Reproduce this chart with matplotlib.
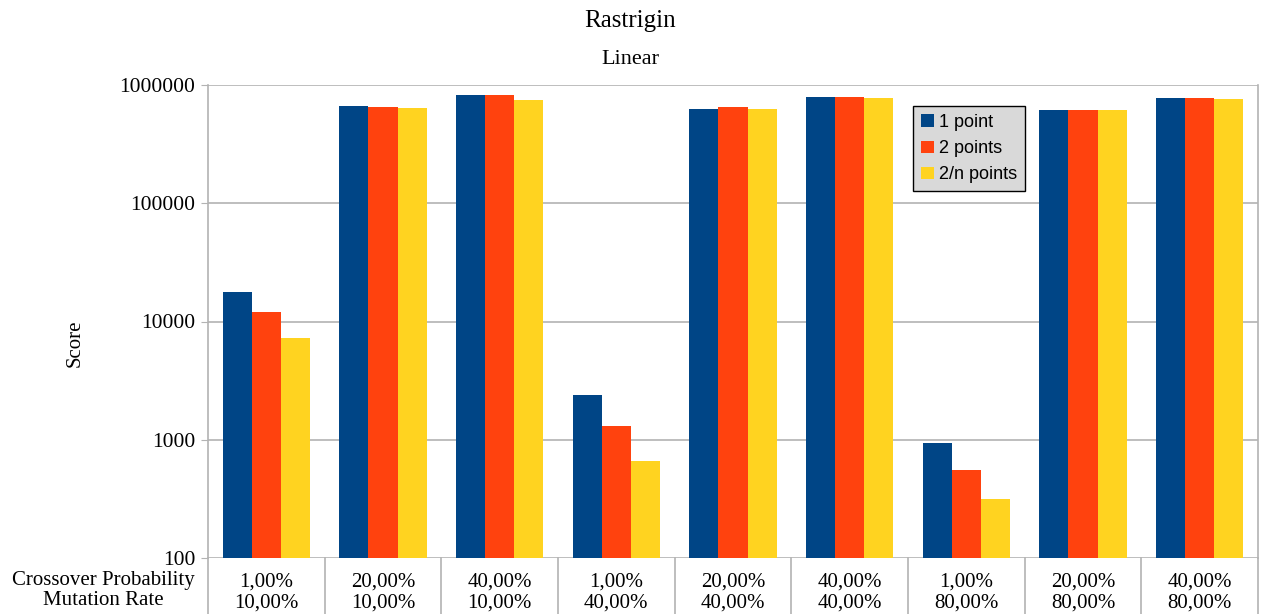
import matplotlib.pyplot as plt
import matplotlib.ticker as mticker
import numpy as np

plt.rcParams["font.family"] = ["Liberation Serif", "DejaVu Serif"]

crossover = ["1,00%", "20,00%", "40,00%", "1,00%", "20,00%", "40,00%", "1,00%", "20,00%", "40,00%"]
mutation = ["10,00%", "10,00%", "10,00%", "40,00%", "40,00%", "40,00%", "80,00%", "80,00%", "80,00%"]

one_point = [17700, 664000, 828000, 2390, 630000, 787000, 944, 615000, 772000]
two_points = [12000, 646000, 820000, 1307, 647000, 787000, 555, 615000, 772000]
two_n_points = [7250, 638000, 747000, 661, 630000, 772000, 318, 612000, 763000]

series = [("1 point", one_point, "#004586"),
          ("2 points", two_points, "#ff420e"),
          ("2/n points", two_n_points, "#ffd320")]

fig = plt.figure(figsize=(12.61, 6.14), dpi=100)
ax = fig.add_axes([208 / 1261, 56 / 614, 1050 / 1261, 473 / 614])

x = np.arange(len(crossover))
width = 0.25
for i, (name, vals, col) in enumerate(series):
    ax.bar(x + (i - 1) * width, vals, width, color=col, label=name, zorder=3)

ax.set_yscale("log")
ax.set_ylim(100, 1000000)
ax.set_xlim(-0.5, len(crossover) - 0.5)
ticks = [100, 1000, 10000, 100000, 1000000]
ax.yaxis.set_major_locator(mticker.FixedLocator(ticks))
ax.yaxis.set_minor_locator(mticker.NullLocator())
ax.set_yticklabels([str(t) for t in ticks], fontsize=15.5)
ax.tick_params(axis="y", length=5, color="#b3b3b3", pad=4)
ax.set_xticks([])
ax.grid(axis="y", color="#b3b3b3", linewidth=1.2, zorder=0)

for side in ["top", "bottom"]:
    ax.spines[side].set_visible(False)
for side in ["left", "right"]:
    ax.spines[side].set_color("#b3b3b3")
    ax.spines[side].set_linewidth(1.2)

# category table under the bars
for b in np.arange(len(crossover) + 1) - 0.5:
    ax.plot([b, b], [0, -0.12], transform=ax.get_xaxis_transform(),
            color="#b3b3b3", linewidth=1.2, clip_on=False)
for xi, c, m in zip(x, crossover, mutation):
    ax.text(xi, -0.03, c + "\n" + m, transform=ax.get_xaxis_transform(),
            ha="center", va="top", fontsize=15, linespacing=1.2)
fig.text(103 / 1261, 1 - 571 / 614, "Crossover Probability\nMutation Rate",
         ha="center", va="top", fontsize=15, linespacing=1.05)

fig.text(75 / 1261, 1 - 343 / 614, "Score", rotation=90, ha="center", va="center", fontsize=15)
fig.text(0.5, 1 - 21 / 614, "Rastrigin", ha="center", va="center", fontsize=18)
fig.text(0.5, 1 - 59 / 614, "Linear", ha="center", va="center", fontsize=16)

leg = ax.legend(loc="upper left", bbox_to_anchor=((913 - 208) / 1050, (558 - 106) / 473),
                prop={"family": "Liberation Sans", "size": 13}, fancybox=False,
                framealpha=1, handlelength=0.7, handleheight=0.7, handletextpad=0.3,
                borderpad=0.45, labelspacing=0.5, borderaxespad=0)
leg.get_frame().set_facecolor("#d9d9d9")
leg.get_frame().set_edgecolor("#000000")
leg.get_frame().set_linewidth(1.0)

fig.savefig("out.png", dpi=100)
